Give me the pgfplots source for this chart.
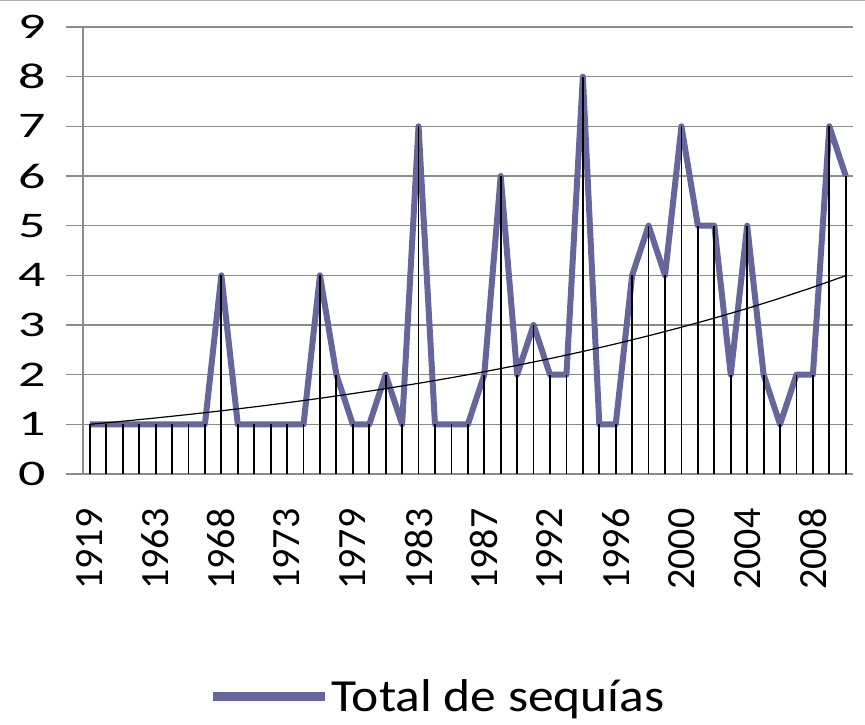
\documentclass[border=0pt]{standalone}
\usepackage{fontspec}
\setmainfont{Carlito}
\newfontfamily\ylab[FakeStretch=1.5]{Carlito}
\newfontfamily\leg[FakeStretch=1.12]{Carlito}
\usepackage{pgfplots}
\pgfplotsset{compat=1.18}
\usepackage{pgfplotstable}
\definecolor{serie}{RGB}{102,102,156}
\definecolor{gridc}{RGB}{140,140,140}

\pgfplotstableread{
x y
0 1
1 1
2 1
3 1
4 1
5 1
6 1
7 1
8 4
9 1
10 1
11 1
12 1
13 1
14 4
15 2
16 1
17 1
18 2
19 1
20 7
21 1
22 1
23 1
24 2
25 6
26 2
27 3
28 2
29 2
30 8
31 1
32 1
33 4
34 5
35 4
36 7
37 5
38 5
39 2
40 5
41 2
42 1
43 2
44 2
45 7
46 6
}\sequias

\pgfplotstableread{
x y
0 1.000
2 1.062
4 1.128
6 1.198
8 1.272
10 1.351
12 1.435
14 1.524
16 1.619
18 1.719
20 1.826
22 1.939
24 2.059
26 2.187
28 2.323
30 2.467
32 2.620
34 2.783
36 2.955
38 3.139
40 3.333
42 3.540
44 3.760
46 3.993
}\tendencia

\begin{document}
\begin{tikzpicture}
\useasboundingbox (0,0) rectangle (865pt,725pt);
\draw[gridc!70, line width=1.5pt] (0,725pt) -- (865pt,725pt);
\begin{axis}[
  at={(83pt,251pt)}, anchor=south west,
  scale only axis, width=770pt, height=447pt,
  xmin=-0.42, xmax=46.44, ymin=0, ymax=9,
  clip=false,
  axis lines*=left,
  axis line style={gridc, line width=1.5pt},
  ytick={0,1,...,9},
  ymajorgrids, grid style={gridc, line width=1.5pt},
  tick align=outside,
  y tick style={draw=gridc, line width=1.5pt},
  x tick style={draw=none},
  major tick length=17pt,
  xtick={0,4,...,44},
  xticklabels={1919,1963,1968,1973,1979,1983,1987,1992,1996,2000,2004,2008},
  /pgf/number format/assume math mode=true,
  yticklabel shift=17pt,
  xticklabel shift=14pt,
  yticklabel style={font=\ylab\fontsize{36}{36}\selectfont},
  xticklabel style={font=\fontsize{40}{40}\selectfont, rotate=90, anchor=east},
  legend style={at={(axis description cs:0.4604,-0.497)}, anchor=center, draw=none, fill=none,
    font=\leg\fontsize{46}{46}\selectfont, inner sep=0pt},
  legend image code/.code={\draw[#1, line width=9pt] (0pt,0pt) -- (112pt,0pt);},
]
\addplot[serie, line width=6pt, line join=round] table[x=x,y=y] {\sequias};
\addlegendentry{Total de sequías}
\addplot[black, line width=1.2pt, forget plot] table[x=x,y=y] {\tendencia};
\addplot[ycomb, black, line width=1.8pt, forget plot] table[x=x,y=y] {\sequias};
\pgfplotsinvokeforeach{0,...,9}{
  \draw[gridc, line width=1.5pt] (axis cs:-0.42,#1) -- ++(-17pt,0pt);
}
\end{axis}
\end{tikzpicture}
\end{document}
